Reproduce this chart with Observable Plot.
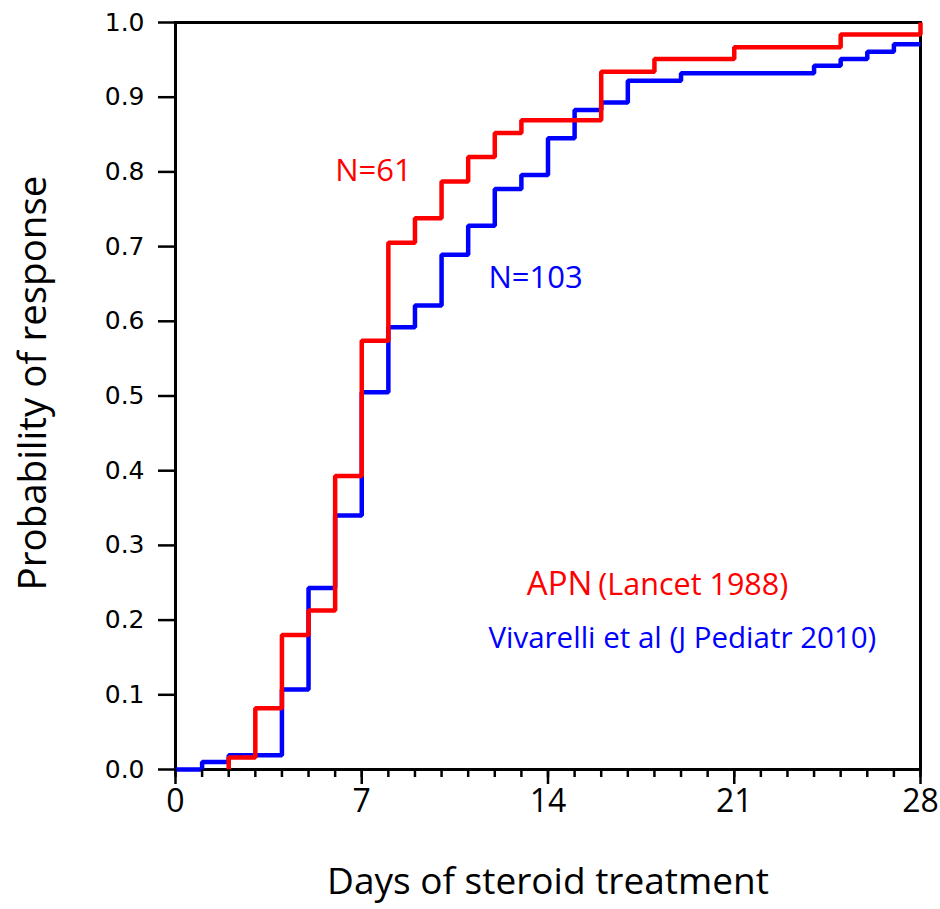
<!DOCTYPE html>
<html>
<head>
<meta charset="utf-8">
<script src="https://cdn.jsdelivr.net/npm/d3@7"></script>
<script src="https://cdn.jsdelivr.net/npm/@observablehq/plot@0.6"></script>
<style>
  html, body { margin: 0; padding: 0; background: #fff; }
  #chart svg { display: block; }
</style>
</head>
<body>
<div id="chart"></div>
<script>
// APN (Lancet 1988), N=61 — step points (day, cumulative probability)
const apnDays   = [2, 2, 3, 4, 5, 6, 7, 8, 9, 10, 11, 12, 13, 16, 18, 21, 25, 28];
const apnValues = [0, 0.016, 0.082, 0.180, 0.213, 0.393, 0.574, 0.705, 0.738, 0.787, 0.820, 0.852, 0.869, 0.934, 0.951, 0.967, 0.984, 1.0];

// Vivarelli et al (J Pediatr 2010), N=103
const vivDays   = [0, 1, 2, 4, 5, 6, 7, 8, 9, 10, 11, 12, 13, 14, 15, 16, 17, 19, 24, 25, 26, 27, 28];
const vivValues = [0, 0.010, 0.019, 0.107, 0.243, 0.340, 0.505, 0.592, 0.621, 0.689, 0.728, 0.777, 0.796, 0.845, 0.883, 0.893, 0.922, 0.932, 0.942, 0.951, 0.961, 0.971, 0.971];

const xMajorTicks = [0, 7, 14, 21, 28];
const xMinorTicks = d3.range(0, 29);
const yTicks = [0, 0.1, 0.2, 0.3, 0.4, 0.5, 0.6, 0.7, 0.8, 0.9, 1.0];

const xLabel = "Days of steroid treatment";
const yLabel = "Probability of response";

// annotations (in data units)
const labelsN = [
  {text: "N=61",  x: 6.0,   y: 0.788, color: "red"},
  {text: "N=103", x: 11.76, y: 0.644, color: "blue"}
];
const sourceApnMain = [{text: "APN", x: 15.78, y: 0.234}];
const sourceApnRef  = [{text: "(Lancet 1988)", x: 15.78, y: 0.234}];
const sourceViv     = [{text: "Vivarelli et al (J Pediatr 2010)", x: 11.76, y: 0.163}];

const RED = "#ff0000";
const BLUE = "#0000ff";

const apn = apnDays.map((d, i) => ({day: d, p: apnValues[i]}));
const viv = vivDays.map((d, i) => ({day: d, p: vivValues[i]}));

const textFont = "Open Sans";

const chart = Plot.plot({
  width: 940,
  height: 909,
  marginLeft: 175,
  marginRight: 20,
  marginTop: 22,
  marginBottom: 140,
  style: {background: "#fff", color: "#000", overflow: "visible"},
  x: {domain: [0, 28]},
  y: {domain: [0, 1]},
  marks: [
    Plot.frame({stroke: "#000", strokeWidth: 3}),
    Plot.lineY(viv, {x: "day", y: "p", curve: "step-after", stroke: BLUE, strokeWidth: 4.5, strokeLinejoin: "miter", strokeLinecap: "butt"}),
    Plot.lineY(apn, {x: "day", y: "p", curve: "step-after", stroke: RED, strokeWidth: 4.5, strokeLinejoin: "miter", strokeLinecap: "butt"}),
    Plot.axisX({ticks: xMinorTicks, tickSize: 8, tickFormat: () => "", strokeWidth: 2.5, label: null}),
    Plot.axisX({ticks: xMajorTicks, tickSize: 15, tickPadding: 5, tickFormat: d => String(d), strokeWidth: 2.5, fontSize: 32, fontFamily: textFont, label: null}),
    Plot.axisY({ticks: yTicks, tickSize: 17, tickPadding: 14, tickFormat: d3.format(".1f"), strokeWidth: 2.5, fontSize: 25, fontFamily: "DejaVu Sans", label: null}),
    Plot.text([xLabel], {frameAnchor: "bottom", textAnchor: "middle", lineAnchor: "bottom", dy: 124, fontSize: 37, fontFamily: textFont, fill: "#000"}),
    Plot.text([yLabel], {frameAnchor: "left", textAnchor: "middle", lineAnchor: "bottom", rotate: -90, dx: -130, dy: -13, fontSize: 38.5, fontFamily: textFont, fill: "#000"}),
    Plot.text(labelsN, {x: "x", y: "y", text: "text", fill: d => d.color === "red" ? RED : BLUE, textAnchor: "start", lineAnchor: "bottom", fontSize: 31, fontFamily: textFont}),
    Plot.text(sourceApnMain, {x: "x", y: "y", text: "text", fill: RED, textAnchor: "end", lineAnchor: "bottom", dx: -3, fontSize: 33, fontFamily: textFont}),
    Plot.text(sourceApnRef, {x: "x", y: "y", text: "text", fill: RED, textAnchor: "start", lineAnchor: "bottom", dx: 3, fontSize: 30.5, fontFamily: textFont}),
    Plot.text(sourceViv, {x: "x", y: "y", text: "text", fill: BLUE, textAnchor: "start", lineAnchor: "bottom", fontSize: 29.5, fontFamily: textFont})
  ]
});

document.getElementById("chart").appendChild(chart);
</script>
</body>
</html>
